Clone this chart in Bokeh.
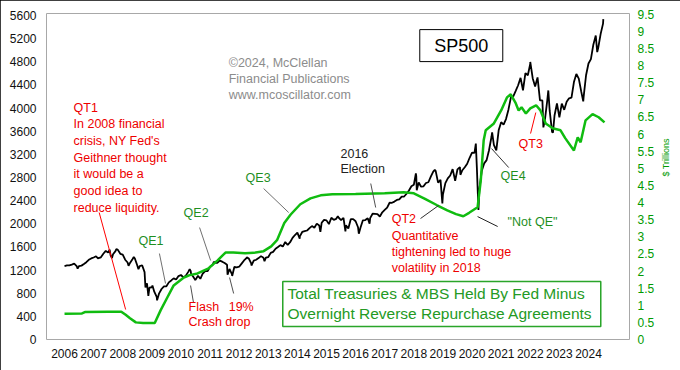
import math
from bokeh.plotting import figure
from bokeh.models import Range1d, LinearAxis, FixedTicker, CustomJSTickFormatter
from bokeh.core.properties import value
from bokeh.embed import file_html
from bokeh.resources import INLINE

FONT = "Liberation Sans"

# ---------------- data ----------------
year_ticks = list(range(2006, 2025))
spx_ticks = list(range(0, 5601, 400))
fed_ticks = [i * 0.5 for i in range(0, 20)]

# S&P 500 month-end closes
spx_2006 = [1280, 1281, 1295, 1311, 1270, 1270, 1277, 1304, 1336, 1378, 1401, 1418]
spx_2007 = [1438, 1407, 1421, 1482, 1531, 1503, 1455, 1474, 1527, 1549, 1481, 1468]
spx_2008 = [1379, 1331, 1323, 1386, 1400, 1280, 1267, 1283, 1165, 969, 896, 903]
spx_2009 = [826, 735, 798, 873, 919, 919, 987, 1021, 1057, 1036, 1096, 1115]
spx_2010 = [1074, 1104, 1169, 1187, 1089, 1031, 1102, 1049, 1141, 1183, 1181, 1258]
spx_2011 = [1286, 1327, 1326, 1364, 1345, 1321, 1292, 1219, 1131, 1253, 1247, 1258]
spx_2012 = [1312, 1366, 1408, 1398, 1310, 1362, 1379, 1407, 1441, 1412, 1416, 1426]
spx_2013 = [1498, 1515, 1569, 1598, 1631, 1606, 1686, 1633, 1682, 1757, 1806, 1848]
spx_2014 = [1783, 1859, 1872, 1884, 1924, 1960, 1931, 2003, 1972, 2018, 2068, 2059]
spx_2015 = [1995, 2105, 2068, 2086, 2107, 2063, 2104, 1972, 1920, 2079, 2080, 2044]
spx_2016 = [1940, 1932, 2060, 2065, 2097, 2099, 2174, 2171, 2168, 2126, 2199, 2239]
spx_2017 = [2279, 2364, 2363, 2384, 2412, 2423, 2470, 2472, 2519, 2575, 2648, 2674]
spx_2018 = [2824, 2714, 2641, 2648, 2705, 2718, 2816, 2902, 2914, 2712, 2760, 2507]
spx_2019 = [2704, 2784, 2834, 2946, 2752, 2942, 2980, 2926, 2977, 3038, 3141, 3231]
spx_2020 = [3226, 2954, 2585, 2912, 3044, 3100, 3271, 3500, 3363, 3270, 3622, 3756]
spx_2021 = [3714, 3811, 3973, 4181, 4204, 4298, 4395, 4523, 4308, 4605, 4567, 4766]
spx_2022 = [4516, 4374, 4530, 4132, 4132, 3785, 4130, 3955, 3586, 3872, 4080, 3840]
spx_2023 = [4077, 3970, 4109, 4169, 4180, 4450, 4589, 4508, 4288, 4194, 4568, 4770]
spx_2024 = [4846, 5096, 5254, 5036, 5278, 5460]

# intra-month swing highs / lows
swing_dates = [2006.0, 2006.45, 2007.16, 2007.55, 2007.63, 2007.78, 2008.2, 2008.38,
               2008.54, 2008.78, 2008.88, 2009.02, 2009.18, 2010.3, 2010.35, 2010.5,
               2011.13, 2011.6, 2011.76, 2012.26, 2012.42, 2012.87, 2014.08, 2014.79,
               2015.39, 2015.65, 2016.11, 2016.48, 2018.07, 2018.1, 2018.72, 2018.98,
               2019.42, 2019.6, 2020.13, 2020.22, 2020.69, 2022.0, 2022.45, 2022.62,
               2022.78, 2023.82, 2024.3, 2024.51]
swing_vals = [1268, 1224, 1399, 1553, 1407, 1565, 1273, 1426,
              1215, 899, 752, 934, 677, 1217, 1128, 1022,
              1343, 1119, 1099, 1419, 1278, 1353, 1741, 1862,
              2131, 1867, 1829, 2001, 2873, 2581, 2931, 2351,
              2744, 2847, 3386, 2237, 3580, 4797, 3667, 4305,
              3577, 4117, 4967, 5537]

# Fed Treasuries + MBS minus ON RRP ($ trillions)
fed_dates = [2006.0, 2006.6, 2006.7, 2007.5, 2007.95, 2008.1, 2008.25, 2008.45, 2008.7,
             2009.1, 2009.3, 2009.54, 2009.75, 2010.1, 2010.3, 2010.57, 2010.95, 2011.26,
             2011.53, 2011.8, 2012.2, 2012.5, 2012.84, 2013.1, 2013.3, 2013.55, 2013.77,
             2014.1, 2014.45, 2014.8, 2015.2, 2016.0, 2017.0, 2017.65, 2018.0, 2018.4,
             2018.8, 2019.15, 2019.45, 2019.7, 2019.9, 2020.19, 2020.3, 2020.4, 2020.47,
             2020.75, 2021.0, 2021.2, 2021.33, 2021.5, 2021.6, 2021.7, 2021.85, 2022.0,
             2022.2, 2022.35, 2022.53, 2022.77, 2023.04, 2023.2, 2023.5, 2023.63, 2023.73,
             2023.9, 2024.14, 2024.35, 2024.55]
fed_vals = [0.75, 0.76, 0.80, 0.81, 0.81, 0.72, 0.62, 0.50, 0.48,
            0.48, 0.85, 1.24, 1.58, 1.81, 1.88, 1.93, 2.08, 2.31,
            2.54, 2.54, 2.52, 2.53, 2.58, 2.72, 2.90, 3.40, 3.65,
            3.95, 4.12, 4.21, 4.24, 4.25, 4.27, 4.30, 4.27, 4.10,
            3.92, 3.77, 3.66, 3.60, 3.70, 3.86, 4.65, 5.82, 6.11,
            6.31, 6.69, 7.07, 7.16, 6.90, 6.69, 6.78, 6.60, 6.75,
            6.84, 6.69, 6.31, 6.17, 6.11, 5.88, 5.52, 5.90, 5.76,
            6.40, 6.58, 6.49, 6.34]

# annotations (data coordinates)
red_text = ["QT1", "In 2008 financial", "crisis, NY Fed's", "Geithner thought",
            "it would be a", "good idea to", "reduce liquidity.",
            "Flash", "Crash drop", "19%",
            "QT2", "Quantitative", "tightening led to huge", "volatility in 2018", "QT3"]
red_x = [2006.31] * 7 + [2010.26, 2010.26, 2011.64] + [2017.24] * 4 + [2021.60]
red_y = [4009, 3720, 3432, 3143, 2855, 2566, 2278, 570, 294, 570, 2091, 1797, 1521, 1244, 3387]

qe_text = ["QE1", "QE2", "QE3", "QE4", '"Not QE"']
qe_x = [2008.54, 2010.09, 2012.22, 2020.98, 2021.22]
qe_y = [1711, 2195, 2799, 2834, 2039]

blk_text = ["2016", "Election"]
blk_x = [2015.48, 2015.48]
blk_y = [3214, 2955]

copy_text = ["\u00a92024, McClellan", "Financial Publications", "www.mcoscillator.com"]
copy_x = [2011.64] * 3
copy_y = [4787, 4510, 4234]

lead_x0 = [2007.19, 2009.26, 2010.64, 2012.84, 2016.52, 2010.33, 2011.67, 2018.23, 2020.19, 2020.67, 2022.01]
lead_y0 = [2195, 1486, 1935, 2609, 2696, 933, 1071, 2091, 2125, 3300, 3560]
lead_x1 = [2008.10, 2009.47, 2011.02, 2013.70, 2016.69, 2010.43, 2011.81, 2018.85, 2020.88, 2021.26, 2022.19]
lead_y1 = [518, 968, 1365, 2195, 2281, 639, 795, 2316, 1953, 2972, 3923]
lead_col = ["#ff0000", "#707070", "#707070", "#707070", "#505050", "#505050", "#505050",
            "#303030", "#202020", "#303030", "#ff0000"]

legend_lines = ["Total Treasuries & MBS Held By Fed Minus",
                "Overnight Reverse Repurchase Agreements"]

# ---------------- build series ----------------
spx_pts = []
for yr, vals in zip(range(2006, 2025),
                    [spx_2006, spx_2007, spx_2008, spx_2009, spx_2010, spx_2011, spx_2012,
                     spx_2013, spx_2014, spx_2015, spx_2016, spx_2017, spx_2018, spx_2019,
                     spx_2020, spx_2021, spx_2022, spx_2023, spx_2024]):
    for m, v in enumerate(vals):
        spx_pts.append((yr + (m + 1) / 12.0, v))
spx_pts += list(zip(swing_dates, swing_vals))
spx_pts.sort()
spx_x = [a for a, b in spx_pts]
spx_y = [b for a, b in spx_pts]

GREEN = "#10bc10"
DKGREEN = "#1f8f1f"

p = figure(width=680, height=370,
           x_range=Range1d(2005.381, 2025.409), y_range=Range1d(0, 5635),
           output_backend="svg", toolbar_location=None,
           min_border_left=46, min_border_right=51, min_border_top=13, min_border_bottom=31,
           background_fill_color="white", border_fill_color="white")
p.styles = {"outline": "1px solid black", "outline-offset": "-1px"}
p.extra_y_ranges = {"fed": Range1d(0, 9.52)}
p.xgrid.visible = False
p.ygrid.visible = False
p.outline_line_color = "#a8a8a8"
p.outline_line_width = 1

p.xaxis.ticker = FixedTicker(ticks=year_ticks)
p.xaxis.formatter = CustomJSTickFormatter(code="return tick.toFixed(0)")
p.yaxis.ticker = FixedTicker(ticks=spx_ticks)
p.yaxis.formatter = CustomJSTickFormatter(code="return tick.toFixed(0)")

raxis = LinearAxis(y_range_name="fed", ticker=FixedTicker(ticks=fed_ticks),
                   formatter=CustomJSTickFormatter(code="return String(tick)"),
                   axis_label="$ Trillions")
p.add_layout(raxis, "right")

for ax in [p.xaxis[0], p.yaxis[0], raxis]:
    ax.axis_line_color = None
    ax.major_tick_line_color = None
    ax.minor_tick_line_color = None
    ax.major_tick_out = 0
    ax.major_tick_in = 0
    ax.minor_tick_out = 0
    ax.minor_tick_in = 0
    ax.major_label_text_font = FONT
    ax.major_label_text_font_size = "12px"
    ax.major_label_text_color = "#111111"

p.xaxis.major_label_standoff = 9
p.yaxis.major_label_standoff = 10
raxis.major_label_standoff = 8
raxis.major_label_text_color = "#009a00"
raxis.axis_label_text_font = FONT
raxis.axis_label_text_font_size = "9px"
raxis.axis_label_text_font_style = "normal"
raxis.axis_label_text_color = "#009a00"
raxis.axis_label_standoff = 9
raxis.axis_label_orientation = math.pi / 2

# series
p.line(spx_x, spx_y, line_color="black", line_width=1.8)
p.line(fed_dates, fed_vals, y_range_name="fed", line_color=GREEN, line_width=2.5)

# leader lines
p.segment(x0=lead_x0, y0=lead_y0, x1=lead_x1, y1=lead_y1, line_color=lead_col, line_width=1)

common = dict(text_font=value(FONT), text_font_size="12.5px", text_baseline="middle", text_align="left")
p.text(x=red_x, y=red_y, text=red_text, text_color="#ee0000", **common)
p.text(x=qe_x, y=qe_y, text=qe_text, text_color=DKGREEN, **common)
p.text(x=blk_x, y=blk_y, text=blk_text, text_color="#222222", **common)
p.text(x=copy_x, y=copy_y, text=copy_text, text_color="#8c8c8c", **common)

# title box
p.rect(x=[2019.63], y=[5080], width=83, height=32, width_units="screen", height_units="screen",
       fill_color="white", line_color="black", line_width=1)
p.text(x=[2019.63], y=[5080], text=["SP500"], text_font=value(FONT), text_font_size="18px",
       text_align="center", text_baseline="middle", text_color="black")

# legend box
p.rect(x=[2018.96], y=[613], width=318, height=45, width_units="screen", height_units="screen",
       fill_color="white", line_color="#2aa52a", line_width=1.5)
p.text(x=[2013.66, 2013.66], y=[795, 449], text=legend_lines, text_font=value(FONT),
       text_font_size="15.5px", text_align="left", text_baseline="middle", text_color="#249a24")

open("out.html", "w").write(file_html(p, INLINE))
